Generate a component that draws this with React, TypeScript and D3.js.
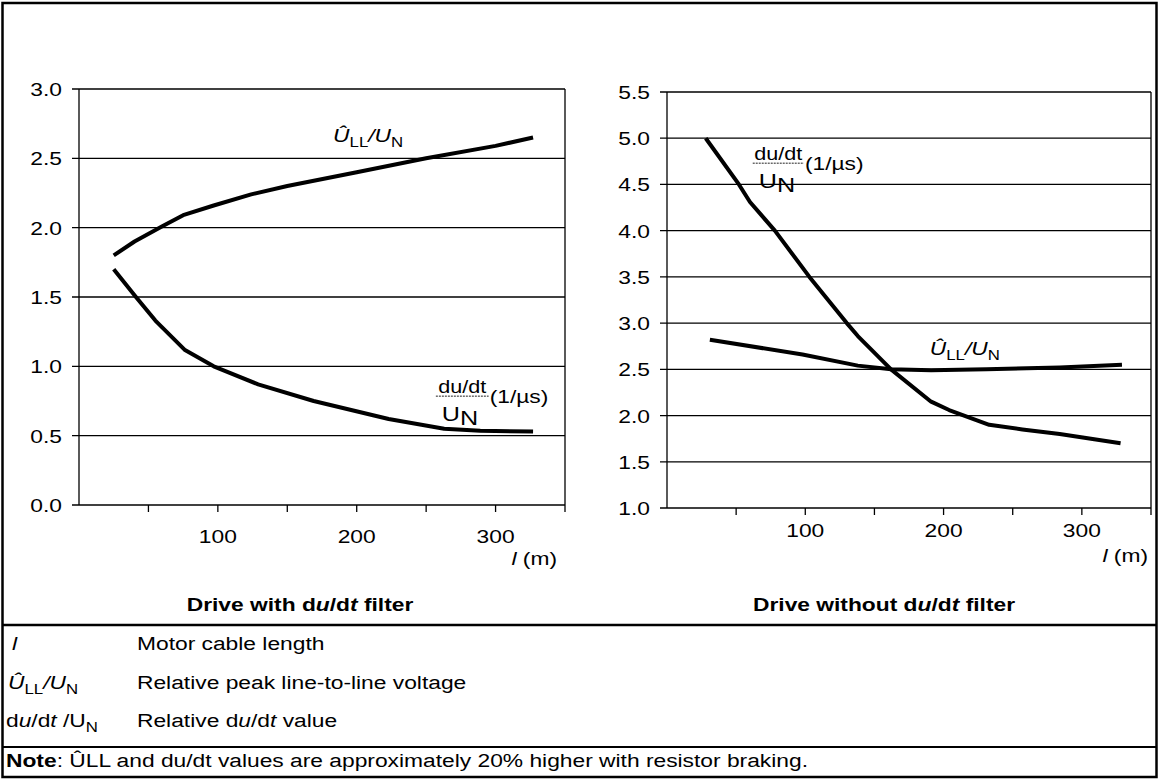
import React from "react";
import * as d3 from "d3";

const W = 1159;
const H = 779;
const SX = 1.2; // the source text is drawn a little wider than plain Arial
const FONT = "'Liberation Sans', Arial, sans-serif";

// Drive with du/dt filter
const withUllX = [25, 40, 60, 75, 97, 124, 150, 200, 250, 300, 327];
const withUllY = [1.8, 1.9, 2.01, 2.09, 2.16, 2.24, 2.3, 2.4, 2.5, 2.59, 2.65];
const withDuX = [25, 41, 55, 76, 97, 129, 169, 223, 263, 289, 327];
const withDuY = [1.7, 1.5, 1.33, 1.12, 1.0, 0.87, 0.75, 0.62, 0.55, 0.535, 0.53];

// Drive without du/dt filter
const withoutUllX = [31, 98, 138, 162, 191, 231, 284, 329];
const withoutUllY = [2.82, 2.66, 2.54, 2.5, 2.49, 2.5, 2.52, 2.55];
const withoutDuX = [28, 52, 60, 78, 103, 130, 138, 162, 191, 204, 233, 257, 284, 328];
const withoutDuY = [5.0, 4.5, 4.31, 4.0, 3.5, 3.0, 2.86, 2.5, 2.15, 2.06, 1.9, 1.85, 1.8, 1.7];

const xTicks = [50, 100, 150, 200, 250, 300, 350];
const xTickLabels = [100, 200, 300];
const leftYTicks = [0, 0.5, 1, 1.5, 2, 2.5, 3];
const rightYTicks = [1, 1.5, 2, 2.5, 3, 3.5, 4, 4.5, 5, 5.5];

type TProps = {
  x: number;
  y: number;
  anchor?: "start" | "middle" | "end";
  size?: number;
  bold?: boolean;
  italic?: boolean;
  children: React.ReactNode;
};

const T = ({ x, y, anchor = "start", size = 19, bold, italic, children }: TProps) => (
  <text
    transform={`translate(${x},${y}) scale(${SX},1)`}
    textAnchor={anchor}
    fontSize={size}
    fontWeight={bold ? "bold" : undefined}
    fontStyle={italic ? "italic" : undefined}
    fill="#000"
  >
    {children}
  </text>
);

const UllText = ({ x, y }: { x: number; y: number }) => (
  <T x={x} y={y}>
    <tspan fontStyle="italic">Û</tspan>
    <tspan fontSize={14} dy={5}>LL</tspan>
    <tspan fontStyle="italic" dy={-5}>/U</tspan>
    <tspan fontSize={14} dy={5}>N</tspan>
  </T>
);

// du/dt over U_N, followed by (1/µs)
const DuLabel = ({ x, y, w }: { x: number; y: number; w: number }) => (
  <g>
    <T x={x + w / 2} y={y - 3} anchor="middle" size={18}>du/dt</T>
    <line x1={x} x2={x + w} y1={y} y2={y} stroke="#222" strokeWidth={1} strokeDasharray="2,1" />
    <T x={x + 6} y={y + 25} size={21}>
      U<tspan dy={4}>N</tspan>
    </T>
    <T x={x + w + 1} y={y + 7}>(1/µs)</T>
  </g>
);

type PanelProps = {
  x0: number;
  x1: number;
  yDomain: [number, number];
  yRange: [number, number];
  yTicks: number[];
  ull: [number[], number[]];
  du: [number[], number[]];
  ullLabel: [number, number];
  duLabel: [number, number, number];
  tickLabelY: number;
  unitX: number;
  unitY: number;
  title: string;
  titleX: number;
};

const Panel = (p: PanelProps) => {
  const x = d3.scaleLinear().domain([0, 350]).range([p.x0, p.x1]);
  const y = d3.scaleLinear().domain(p.yDomain).range(p.yRange);
  const line = d3
    .line<[number, number]>()
    .x((d) => x(d[0]))
    .y((d) => y(d[1]))
    .curve(d3.curveLinear);
  const toPts = (s: [number[], number[]]) => s[0].map((v, i) => [v, s[1][i]] as [number, number]);
  const yBottom = p.yRange[0];
  const yTop = p.yRange[1];

  return (
    <g>
      {p.yTicks.map((t) => (
        <g key={t}>
          <line x1={p.x0 - 7} x2={p.x1} y1={y(t)} y2={y(t)} stroke="#000" strokeWidth={1.3} />
          <T x={p.x0 - 17} y={y(t) + 7} anchor="end">{t.toFixed(1)}</T>
        </g>
      ))}
      <line x1={p.x0} x2={p.x0} y1={yTop} y2={yBottom} stroke="#000" strokeWidth={1.3} />
      <line x1={p.x1} x2={p.x1} y1={yTop} y2={yBottom} stroke="#000" strokeWidth={1.3} />
      {xTicks.map((t) => (
        <line key={t} x1={x(t)} x2={x(t)} y1={yBottom} y2={yBottom + 7} stroke="#000" strokeWidth={1.3} />
      ))}
      {xTickLabels.map((t) => (
        <T key={t} x={x(t)} y={p.tickLabelY} anchor="middle">{t}</T>
      ))}
      <T x={p.unitX} y={p.unitY} anchor="end">
        <tspan fontStyle="italic">l</tspan> (m)
      </T>

      <path d={line(toPts(p.ull)) ?? ""} fill="none" stroke="#000" strokeWidth={4} strokeLinejoin="round" />
      <path d={line(toPts(p.du)) ?? ""} fill="none" stroke="#000" strokeWidth={4} strokeLinejoin="round" />

      <UllText x={x(p.ullLabel[0])} y={y(p.ullLabel[1])} />
      <DuLabel
        x={x(p.duLabel[0])}
        y={y(p.duLabel[1])}
        w={x(p.duLabel[2]) - x(p.duLabel[0])}
      />

      <T x={p.titleX} y={611} anchor="middle" bold>
        Drive {p.title} d<tspan fontStyle="italic">u</tspan>/d<tspan fontStyle="italic">t</tspan> filter
      </T>
    </g>
  );
};

export default function App() {
  return (
    <svg
      width={W}
      height={H}
      style={{ position: "absolute", left: 0, top: 0, background: "#fff" }}
      fontFamily={FONT}
    >
      <rect x={0} y={0} width={W} height={H} fill="#fff" />

      <Panel
        x0={79}
        x1={565}
        yDomain={[0, 3]}
        yRange={[505, 89]}
        yTicks={leftYTicks}
        ull={[withUllX, withUllY]}
        du={[withDuX, withDuY]}
        ullLabel={[183, 2.62]}
        duLabel={[257, 0.785, 295]}
        tickLabelY={543}
        unitX={557}
        unitY={565}
        title="with"
        titleX={300}
      />
      <Panel
        x0={667}
        x1={1151}
        yDomain={[1, 5.5]}
        yRange={[508, 92]}
        yTicks={rightYTicks}
        ull={[withoutUllX, withoutUllY]}
        du={[withoutDuX, withoutDuY]}
        ullLabel={[190, 2.66]}
        duLabel={[62, 4.73, 99]}
        tickLabelY={537}
        unitX={1148}
        unitY={562}
        title="without"
        titleX={884}
      />

      {/* frame and separators */}
      <rect x={2.5} y={3} width={1154} height={774} fill="none" stroke="#000" strokeWidth={2.5} />
      <line x1={2.5} x2={1156.5} y1={625} y2={625} stroke="#000" strokeWidth={2.5} />
      <line x1={2.5} x2={1156.5} y1={747} y2={747} stroke="#000" strokeWidth={1.8} />

      {/* legend */}
      <T x={12} y={650} italic>l</T>
      <T x={137} y={650}>Motor cable length</T>
      <UllText x={8} y={689} />
      <T x={137} y={689}>Relative peak line-to-line voltage</T>
      <T x={6} y={727}>
        d<tspan fontStyle="italic">u</tspan>/d<tspan fontStyle="italic">t</tspan> /U
        <tspan fontSize={14} dy={5}>N</tspan>
      </T>
      <T x={137} y={727}>
        Relative d<tspan fontStyle="italic">u</tspan>/d<tspan fontStyle="italic">t</tspan> value
      </T>

      <T x={6} y={767}>
        <tspan fontWeight="bold">Note</tspan>: ÛLL and du/dt values are approximately 20% higher with resistor braking.
      </T>
    </svg>
  );
}
